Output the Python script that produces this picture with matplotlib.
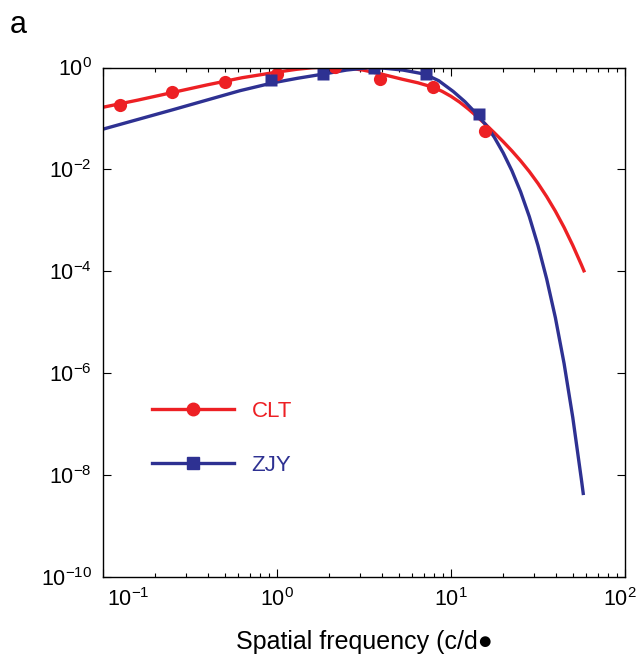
import numpy as np
import matplotlib
matplotlib.use('Agg')
import matplotlib.pyplot as plt
from matplotlib.ticker import LogLocator, NullLocator, NullFormatter
from matplotlib.transforms import ScaledTranslation

plt.rcParams['font.family'] = ['Liberation Sans', 'DejaVu Sans']
plt.rcParams['mathtext.fontset'] = 'custom'
plt.rcParams['mathtext.rm'] = 'Liberation Sans'
plt.rcParams['mathtext.it'] = 'Liberation Sans'
plt.rcParams['mathtext.bf'] = 'Liberation Sans:bold'

RED = '#ED2024'
BLUE = '#2E3192'

# measured points
clt_x = [0.125, 0.25, 0.5, 1.0, 2.15, 3.9, 7.9, 15.7]
clt_y = [0.185, 0.325, 0.53, 0.74, 1.04, 0.60, 0.42, 0.058]
zjy_x = [0.92, 1.85, 3.6, 7.2, 14.4]
zjy_y = [0.56, 0.76, 1.0, 0.76, 0.12]

# fitted curves (log10 x, log10 y)
clt_fit_lx = [-1.0, -0.8, -0.6, -0.4, -0.2, 0.0, 0.113, 0.2, 0.305, 0.4,
              0.494, 0.59, 0.72, 0.81, 0.9, 0.95, 1.0, 1.05, 1.1, 1.15,
              1.2, 1.25, 1.3, 1.35, 1.4, 1.45, 1.5, 1.55, 1.6, 1.65,
              1.7, 1.75, 1.764]
clt_fit_ly = [-0.78, -0.64, -0.49, -0.34, -0.20, -0.09, -0.035, -0.005, 0.012, -0.005,
              -0.05, -0.12, -0.23, -0.30, -0.39, -0.469, -0.565, -0.68, -0.815, -0.964,
              -1.12, -1.284, -1.455, -1.636, -1.83, -2.041, -2.275, -2.534, -2.82, -3.138,
              -3.491, -3.876, -3.99]
zjy_fit_lx = [-1.0, -0.6, -0.213, -0.023, 0.12, 0.264, 0.40, 0.534, 0.62, 0.724,
              0.85, 0.93, 1.013, 1.08, 1.15, 1.2, 1.25, 1.3, 1.35, 1.4,
              1.45, 1.5, 1.55, 1.6, 1.65, 1.7, 1.75, 1.76]
zjy_fit_ly = [-1.21, -0.83, -0.455, -0.30, -0.21, -0.13, -0.05, 0.0, -0.015, -0.05,
              -0.13, -0.26, -0.47, -0.67, -0.92, -1.124, -1.375, -1.675, -2.025, -2.438,
              -2.925, -3.494, -4.15, -4.91, -5.81, -6.87, -8.10, -8.36]

x_ticks = [0.1, 1, 10, 100]
x_ticklabels = ['$10^{-1}$', '$10^{0}$', '$10^{1}$', '$10^{2}$']

fig = plt.figure(figsize=(6.38, 6.60), dpi=100)
ax = fig.add_axes([0.1614, 0.1258, 0.8182, 0.7719])

ax.plot(10 ** np.array(clt_fit_lx), 10 ** np.array(clt_fit_ly), color=RED, lw=2.4,
        solid_joinstyle='round')
ax.plot(10 ** np.array(zjy_fit_lx), 10 ** np.array(zjy_fit_ly), color=BLUE, lw=2.4,
        solid_joinstyle='round')
ax.plot(clt_x, clt_y, 'o', color=RED, ms=9.5, mec='none')
ax.plot(zjy_x, zjy_y, 's', color=BLUE, ms=9, mec='none')

ax.set_xscale('log')
ax.set_yscale('log')
ax.set_xlim(0.1, 100)
ax.set_ylim(1e-10, 1)

ax.set_xticks(x_ticks, labels=x_ticklabels)
ax.xaxis.set_minor_locator(LogLocator(base=10, subs=np.arange(2, 10), numticks=10))
ax.xaxis.set_minor_formatter(NullFormatter())
ax.yaxis.set_major_locator(LogLocator(base=100, numticks=10))
ax.yaxis.set_minor_locator(NullLocator())

ax.tick_params(which='both', direction='in', top=True, right=True, labelsize=15.5)
ax.tick_params(which='major', length=6, width=0.8, pad=8)
ax.tick_params(which='minor', length=3, width=0.8)
for s in ax.spines.values():
    s.set_linewidth(1.0)

labs = ax.get_xticklabels()
labs[0].set_ha('left')
labs[0].set_transform(labs[0].get_transform() + ScaledTranslation(0.04, 0, fig.dpi_scale_trans))
labs[-1].set_transform(labs[-1].get_transform() + ScaledTranslation(-0.05, 0, fig.dpi_scale_trans))

ax.set_xlabel('Spatial frequency (c/d\u25CF', fontsize=18, labelpad=14)

# legend
ax.plot([], [], '-o', color=RED, lw=2.4, ms=9, label='CLT')
ax.plot([], [], '-s', color=BLUE, lw=2.4, ms=9, label='ZJY')
h, l = ax.get_legend_handles_labels()
leg = ax.legend(h[-2:], l[-2:], loc='upper left', bbox_to_anchor=(0.055, 0.385),
                frameon=False, fontsize=16, handlelength=3.7, handletextpad=0.8,
                labelspacing=1.5, labelcolor='linecolor')

fig.text(0.015, 0.94, 'a', fontsize=22, va='bottom')

fig.savefig('out.png', dpi=100)
